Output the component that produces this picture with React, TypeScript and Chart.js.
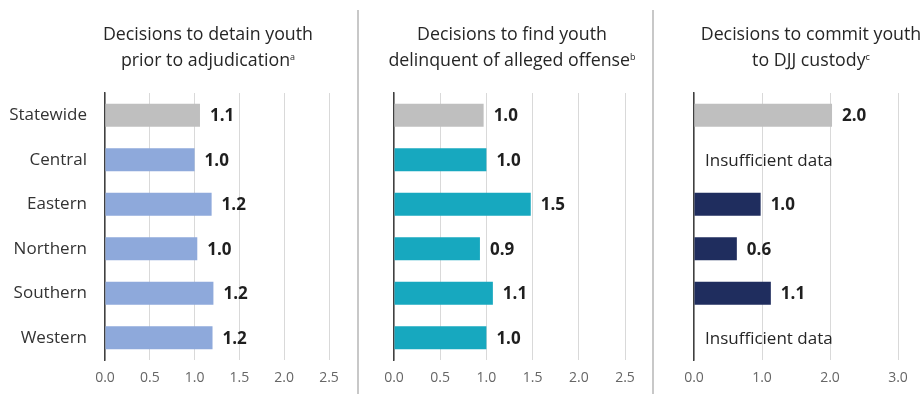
import React, { useEffect, useRef } from "react";
import { Chart, registerables } from "chart.js";

Chart.register(...registerables);

const regions = ["Statewide", "Central", "Eastern", "Northern", "Southern", "Western"];
const detainValues = [1.06, 1.0, 1.19, 1.03, 1.21, 1.2];
const delinquentValues = [0.97, 1.0, 1.48, 0.93, 1.07, 1.0];
const commitValues: (number | null)[] = [2.03, null, 0.98, 0.63, 1.13, null];
const ticks1 = [0, 0.5, 1.0, 1.5, 2.0, 2.5];
const ticks3 = [0, 1.0, 2.0, 3.0];

const FONT = "'Open Sans', sans-serif";

const valueLabelPlugin = {
  id: "valueLabels",
  afterDatasetsDraw(chart: any) {
    const ctx = chart.ctx;
    const meta = chart.getDatasetMeta(0);
    const data = chart.data.datasets[0].data;
    const xScale = chart.scales.x;
    ctx.save();
    ctx.textBaseline = "middle";
    ctx.textAlign = "left";
    meta.data.forEach((bar: any, i: number) => {
      const v = data[i];
      const y = chart.scales.y.getPixelForValue(i);
      if (v === null || v === undefined) {
        ctx.font = `17px ${FONT}`;
        ctx.fillStyle = "#262626";
        ctx.fillText("Insufficient data", xScale.getPixelForValue(0) + 11, y + 1);
      } else {
        ctx.font = `bold 17px ${FONT}`;
        ctx.fillStyle = "#1F1F1F";
        ctx.fillText(Number(v).toFixed(1), bar.x + 10, y + 1);
      }
    });
    ctx.restore();
  },
};

function Panel(props: {
  left: number;
  width: number;
  yWidth: number;
  padRight: number;
  values: (number | null)[];
  colors: string[];
  max: number;
  tickVals: number[];
  showY: boolean;
}) {
  const ref = useRef<HTMLCanvasElement>(null);
  useEffect(() => {
    if (!ref.current) return;
    const chart = new Chart(ref.current, {
      type: "bar",
      data: {
        labels: regions,
        datasets: [
          {
            data: props.values as any,
            backgroundColor: props.colors,
            categoryPercentage: 1,
            barPercentage: 0.52,
          },
        ],
      },
      options: {
        indexAxis: "y",
        animation: false,
        responsive: false,
        maintainAspectRatio: false,
        layout: { padding: { top: 93, bottom: 0, left: 0, right: props.padRight } },
        plugins: { legend: { display: false }, tooltip: { enabled: false } },
        scales: {
          x: {
            min: 0,
            max: props.max,
            afterBuildTicks: (s: any) => {
              s.ticks = props.tickVals.map((v) => ({ value: v }));
            },
            afterFit: (s: any) => {
              s.height = 34;
            },
            grid: {
              color: "#D9D9D9",
              lineWidth: 1,
              drawTicks: false,
            },
            border: { display: false },
            ticks: {
              padding: 10,
              color: "#666666",
              font: { family: FONT, size: 14 },
              callback: (v: any) => Number(v).toFixed(1),
            },
          },
          y: {
            afterFit: (s: any) => {
              s.width = props.yWidth;
            },
            grid: { display: false, drawTicks: false },
            border: { display: true, color: "#404040", width: 1.5 },
            ticks: {
              display: props.showY,
              padding: 18,
              color: "#333333",
              font: { family: FONT, size: 17 },
            },
          },
        },
      },
      plugins: [valueLabelPlugin],
    });
    return () => chart.destroy();
  }, []);
  return (
    <canvas
      ref={ref}
      width={props.width}
      height={394}
      style={{ position: "absolute", left: props.left, top: 0, width: props.width, height: 394 }}
    />
  );
}

const titleStyle: React.CSSProperties = {
  position: "absolute",
  top: 22,
  fontFamily: FONT,
  fontSize: 17.8,
  lineHeight: "23px",
  color: "#262626",
  textAlign: "center",
  whiteSpace: "nowrap",
  transform: "translateX(-50%)",
};
const supStyle: React.CSSProperties = { fontSize: 9, verticalAlign: "6px" };

export default function App() {
  const gray = "#BFBFBF";
  const blue = "#8EA9DB";
  const teal = "#17A8BF";
  const navy = "#1F2D5E";
  return (
    <div
      style={{
        position: "fixed",
        left: 0,
        top: 0,
        width: 923,
        height: 394,
        background: "#ffffff",
        overflow: "hidden",
      }}
    >
      <Panel
        left={0}
        width={357}
        yWidth={105}
        padRight={28}
        values={detainValues}
        colors={[gray, blue, blue, blue, blue, blue]}
        max={2.5}
        tickVals={ticks1}
        showY={true}
      />
      <Panel
        left={360}
        width={292}
        yWidth={34}
        padRight={27}
        values={delinquentValues}
        colors={[gray, teal, teal, teal, teal, teal]}
        max={2.5}
        tickVals={ticks1}
        showY={false}
      />
      <Panel
        left={656}
        width={267}
        yWidth={38}
        padRight={25}
        values={commitValues}
        colors={[gray, navy, navy, navy, navy, navy]}
        max={3}
        tickVals={ticks3}
        showY={false}
      />
      <div style={{ position: "absolute", left: 357, top: 10, width: 2, height: 384, background: "#C8C8C8" }} />
      <div style={{ position: "absolute", left: 652, top: 10, width: 2, height: 384, background: "#C8C8C8" }} />
      <div style={{ ...titleStyle, left: 208 }}>
        Decisions to detain youth
        <br />
        prior to adjudication<span style={supStyle}>a</span>
      </div>
      <div style={{ ...titleStyle, left: 512 }}>
        Decisions to find youth
        <br />
        delinquent of alleged offense<span style={supStyle}>b</span>
      </div>
      <div style={{ ...titleStyle, left: 811 }}>
        Decisions to commit youth
        <br />
        to DJJ custody<span style={supStyle}>c</span>
      </div>
    </div>
  );
}
